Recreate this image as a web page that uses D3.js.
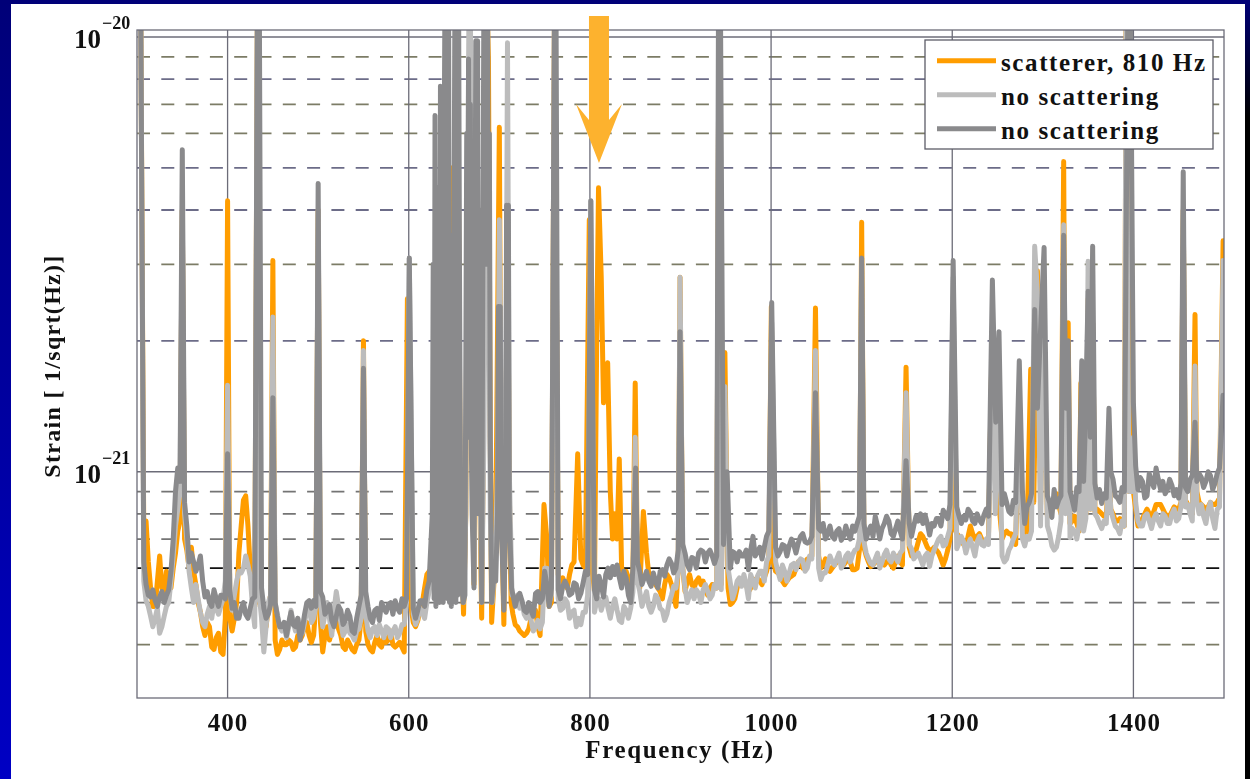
<html>
  <head>
    <meta charset="utf-8">
    <title>Strain spectrum</title>
    <script src="https://d3js.org/d3.v7.min.js" charset="utf-8"></script>
    <style>
      html, body { margin: 0; padding: 0; background: white; overflow: hidden; }
      text { font-family: "Liberation Serif", serif; font-weight: bold; fill: #111; }
    </style>
  </head>
  <body>
    <script>
      // amplitudes are in units of 1e-22 strain
      // floors sit on a 5 Hz grid starting at 300 Hz, one row per 100 Hz
      // the *Mid arrays are the points half way, 302.5, 307.5, ...
      var floorStart = 300, floorStep = 5;

      var darkFloor = [
        60,8,5.5,5.15,5.05,5.15,5,5.35,7,10.2,12,7.5,6.5,5.9,6.4,5.15,5,5.35,4.9,5.2,
        7,4.85,4.6,4.85,4.7,4.85,5.15,8,4.85,4.7,5.2,4.65,4.4,4.2,4.75,4.4,4.1,4.7,5.05,5.05,
        7,5.15,4.8,4.55,4.65,4.8,4.55,4.65,4.25,4.9,6.5,4.9,4.5,4.85,5,4.75,5,5.05,4.75,4.9,
        6,4.85,4.8,5.05,5.35,null,null,null,null,null,null,null,null,null,null,null,null,null,null,null,
        null,null,null,5,5.15,5.05,4.75,4.8,5.25,5,5.9,4.9,6,5.35,5.45,5.45,5.25,5.5,5.25,5.9,
        7,5.35,5.75,5.15,6,6.05,6.1,5.4,5.7,5,6.5,5.9,5.7,5.6,5.85,5.4,5.95,6.1,6.15,6,
        7.5,6.5,5.95,6.3,6.5,6.55,6.5,6.4,6.4,7,8,6,6.5,6.55,6.4,5.95,7.1,6.55,6.3,7.1,
        8,6.7,6.55,6.75,6.75,6.8,6.85,7.2,6.85,7.1,7.6,7.3,7,7.5,7,7.4,7.1,7.2,7.5,7.6,
        8,7,7.5,7.9,7,7.6,7.7,7.1,7.7,7,7.8,7.1,7.9,8,7.95,7.15,7.5,7.8,8.15,7.8,
        9,8.3,7.6,7.75,8.05,7.6,7.75,7.95,7.9,8.6,9,8.4,8.5,8,8.5,8.8,7.6,8.5,9.5,12,
        9.5,8.8,7.85,8.3,8.8,9.5,9,8.15,9,9.5,9.5,9.2,8.7,8.45,8.7,10,8.8,8.5,9,10,
        10,9.1,9.5,8.8,9.5,10.2,9.1,8.9,9.6,8.8,8.7,10,9,9.8,9.5,9.7,9.5,9.8,9.4,10.2,
        10.8
      ];

      var darkMid = [
        130,6.2,5.2,5.35,4.9,5.3,5.2,5.9,9,9.5,8.5,6.2,6.2,6.1,5.6,5.3,4.9,5.1,5.2,5.1,
        5.3,5,4.6,5,4.6,5.1,5.6,5.4,4.6,4.95,5,4.4,4.5,4.5,4.45,4.6,4.35,5,4.85,4.9,
        5.3,4.7,4.95,4.4,4.9,4.45,4.8,4.3,4.6,5.2,5.3,4.6,4.8,4.55,4.85,4.95,4.7,4.85,5.1,5.1,
        5.2,4.6,5.05,4.9,5.6,null,null,null,null,null,null,null,null,null,null,null,null,null,null,null,
        null,null,null,4.9,5.25,4.8,5,4.65,5.3,5.1,5.5,5.4,5.5,5.1,5.6,5.2,5.55,5.1,5.55,5.8,
        5.8,5.1,5.5,5.8,5.7,5.8,5.7,5.9,5.2,6,6.2,5.5,5.9,5.45,5.6,5.9,5.75,6.3,5.85,6.6,
        6.8,6.1,6.35,6,6.6,6.2,6.6,6.15,6.5,6.8,7,6.55,6.2,6.4,6.6,6.6,6.4,6.7,6.7,7.3,
        7.2,6.4,6.8,6.4,7,6.5,7.1,6.9,6.9,7.5,7.4,7.6,7.2,7.1,7.3,6.95,7.5,7,7.3,7.9,
        7.6,7.3,7.1,7.5,7.4,7.9,7.2,7.4,7.3,7.5,7.6,7.5,7.7,7.6,7.6,7.6,7.8,7.5,8,8.4,
        8.5,7.9,7.9,8.2,7.7,8,7.6,8.2,8,11,12,8.9,8.1,8.6,8.2,9,8.3,8.9,10,13,
        12,8.5,9.1,8.6,9.3,14,8.6,9.2,8.5,11,12,9.4,9.1,8.9,8.5,9.6,8.7,9.2,9.4,11,
        10.3,9.7,8.7,9.9,9.2,9.6,9.5,9.1,9.3,9.1,9.4,9.2,9.6,9.3,9.9,9.2,10,9.1,9.9,10.6
      ];

      var lightFloor = [
        60,7,5.05,4.65,4.6,4.25,4.65,5,6.4,8.2,9.5,7,5.4,5.5,4.75,4.4,4.9,5,4.7,5.1,
        7,4.8,5.6,5.85,6.4,5.75,4.4,5.2,3.85,5,5.5,4.7,4.3,4.15,4.8,4.3,4.35,4.5,4.9,4.6,
        6.5,4.4,5,4.2,5.3,4.5,4.3,4.25,4.1,4.35,5.5,4.3,4.35,4.2,4.3,4.4,4.15,4.4,4.25,4.45,
        6,4.7,4.6,4.75,5,null,null,null,null,null,null,null,null,null,null,null,null,null,null,null,
        null,null,null,4.9,5.2,5,4.6,4.55,4.4,4.35,6,5,6,5.1,4.85,5,4.75,4.4,4.45,4.75,
        6,4.75,5.1,5,4.85,4.9,4.8,4.5,4.8,4.85,6,5.3,5.1,4.9,4.9,5.1,4.8,4.7,5.2,5.4,
        7,5.4,5.2,5.1,5.25,5.35,5.3,5.2,5.4,5.35,7,5.55,5.3,5.7,5.8,5.1,5.6,5.75,5.9,6.2,
        7,6.2,5.65,5.9,5.85,6.15,6.2,6.25,6,6.3,7,5.65,5.85,6.4,6.1,6.5,6.15,6.5,6.45,6.65,
        7.5,6.5,6.15,6.3,6,6.45,6.3,6.5,6.2,6.6,7,6.65,6.4,6.3,6.4,6.05,6.6,7,6.75,7.1,
        8,6.65,7.1,6.5,7,6.4,7.1,6.75,6.8,7.5,8,6.4,6.3,6.75,7.2,7.5,6.75,7,8.5,7.5,
        8,7.5,6.75,6.7,7.7,8,7.05,7.3,7.5,7.3,8,8.5,7.85,7.4,7.6,8.2,7.5,7.2,7.5,9,
        9,7.7,7.5,8,7.4,8,7.5,7.9,7.6,8.2,7.8,9,8.4,7.7,8.5,8.4,7.6,8.5,7.4,8.3,
        9.1
      ];

      var lightMid = [
        130,5.6,4.9,4.4,4.85,4.4,4.9,5.6,7.5,9,8,5.9,5,5.1,4.5,4.7,4.6,4.85,4.9,5.6,
        5.3,5.2,5.9,6,6.1,4.9,4.7,4.6,4.4,5.2,5,4.4,4.5,4.4,4.5,4.6,4.25,4.8,4.5,4.9,
        5,4.7,4.6,4.8,4.9,4.2,4.45,4.2,4.3,4.6,4.7,4.15,4.4,4.45,4.15,4.35,4.3,4.15,4.45,5,
        5.3,4.45,4.85,4.6,5.3,null,null,null,null,null,null,null,null,null,null,null,null,null,null,null,
        null,null,null,5.1,4.85,4.7,4.85,4.3,4.55,4.5,6,5.2,5.6,4.8,5.1,4.6,4.8,4.6,4.75,5.2,
        5.5,5.05,4.8,5.15,4.6,5.1,4.55,4.9,4.6,5.3,5.6,4.9,5.3,4.75,5.2,4.85,4.55,5,5.45,5.9,
        6,5,5.35,5.35,5,5.5,5.1,5.5,5.2,5.8,6,5.1,5.6,5.45,5.5,5.8,5.4,5.9,5.6,6.4,
        6.4,5.9,6.1,5.6,6.1,5.95,6.3,5.9,6.4,6.6,6,5.85,6.1,6.2,6.3,6,6.4,6.2,6.6,7,
        6.9,6.3,6.1,6.5,6.2,6.6,6.2,6.35,6.5,6.8,6.8,6.3,6.5,6.1,6.5,6.4,6.8,7.1,6.8,7.4,
        7.3,6.85,6.9,6.8,6.7,6.9,6.8,7,7.3,8,7.4,6.2,6.6,7,7.3,7,7.1,7.3,8,7.5,
        7.6,7.2,6.6,7.1,7.8,7.9,7.4,7,7.6,7.8,8.2,8,7.6,7.7,7.9,7.8,7.4,7.7,8.3,9,
        8.5,7.5,7.9,7.7,7.8,7.7,8,7.6,8,7.7,8.3,8.3,8,8.2,8,7.9,8.2,7.8,8.2,8.6
      ];

      var orangeFloor = [
        60,7.5,7.7,5.4,4.9,6.4,5.3,5.7,6,7.3,7.6,6.6,6.7,5.5,4.75,4.2,4.4,3.9,4.25,3.8,
        6,4.3,5,7.5,8.8,6,4.9,5,4.6,4.9,5.5,3.8,4.1,4,4.05,3.95,4.1,4.4,4.2,4.2,
        6,3.85,4.4,4.3,4.6,4.2,3.9,4,3.85,4.1,5,4,3.85,4.2,3.95,4.05,4.3,3.95,4.05,3.85,
        5.5,4.5,4.55,5,5.8,null,null,null,null,null,null,null,null,null,null,null,null,null,null,null,
        null,null,null,4.7,4.4,4.25,4.25,4.6,4.8,4.2,5.5,4.9,5.5,5.8,5.7,5.4,6.1,6.2,6.3,6,
        7,5.3,8,5.5,8,7,7,6,5.9,5.4,7,5.4,7.5,5.8,5.6,5.4,5.1,5.8,5.5,4.9,
        7,5.3,5.8,5.4,5.7,5.6,5.2,5.5,5.4,5.5,6,4.95,5.1,5.6,5.7,5.3,5.5,5.7,5.5,5.9,
        7,5.9,5.8,5.5,5.7,5.8,6.2,6,6.3,6.4,7,6,6.3,5.9,6.1,6.3,6.1,6.4,5.95,6,
        7.5,6.4,6.05,6.2,6.3,6.1,6.3,6,6.4,6.1,7,6.4,6.6,7.2,6.9,6.6,6.7,6.5,6.1,6.6,
        8,7.2,7,6.7,7.5,7,7.2,6.8,7.1,8,8.5,7,7.3,7.2,6.8,8,7.3,7.2,8.5,8,
        8.5,7.9,8.2,8.9,8,8.5,7.6,7.9,7.3,7.5,8.5,8,8.2,8,7.9,8.2,7.7,7.8,7.5,9,
        9,7.5,7.8,8.2,7.9,8.4,8.4,8,7.9,8.3,8.2,9,8.4,8,9,8.4,8.2,8.5,8.4,8.7,
        9.5
      ];

      var orangeMid = [
        130,7,6.2,4.9,5.6,5.4,5.9,5.4,6.5,7.7,7,6,5.9,5,4.4,4.5,3.95,4.15,3.85,4.6,
        4.6,4.6,6.5,8.6,7.5,5.2,4.8,4.9,4.4,5.2,4.1,3.9,4,4.1,3.9,4.2,4.2,4.5,4.05,5,
        4.5,4.2,4.1,4.7,4.35,3.95,4.1,3.9,4,4.6,4.3,3.9,4.05,4,4.2,4.1,4,4,3.95,4.6,
        4.9,4.4,4.8,5.4,5.9,null,null,null,null,null,null,null,null,null,null,null,null,null,null,null,
        null,null,null,4.45,4.3,4.2,4.35,4.8,4.4,5,7,5,6,5.5,5.5,5.8,6.2,7,6.1,7,
        6,20,28,16,9,8,9,5.8,5.7,5.9,6,6.5,6.5,5.7,5.5,5.3,5.5,5.7,5.2,6,
        6,5.6,5.5,5.6,5.5,5.4,5.4,5.5,5.4,6,5.4,5,5.4,5.6,5.5,5.4,5.65,5.6,5.7,6.2,
        6.2,5.85,5.6,5.6,5.75,6,6.1,6.2,6.3,6.8,6.4,6.1,6.1,6,6.2,6.2,6.2,6.2,5.95,6.6,
        6.7,6.2,6.1,6.2,6.2,6.2,6.1,6.2,6.2,6.6,6.7,6.5,6.9,7.1,6.7,6.6,6.6,6.3,6.3,7,
        7.4,7.1,6.8,7.1,7.2,7.1,7,6.9,7.4,8,8,7.2,7.2,7,7.2,7.6,7.2,7.8,8.8,8.4,
        8.3,8,8.6,8.4,8.5,8,7.7,7.6,7.4,8,8.2,8.1,8.1,7.9,8,8,7.7,7.6,8,9,
        8.2,7.6,8,8,8.1,8.4,8.2,7.9,8.1,8.2,8.5,8.6,8.2,8.4,8.5,8.3,8.3,8.4,8.5,9
      ];

      // spectral lines as [Hz, amplitude], 130 runs off the top of the plot
      var darkPeaks = [
        [300,130],[304,130],[350,55],[400,11],[433,130],[435,130],[450,14.8],[500,46],[550,17.3],[600.6,31],
        [626,8],[627,30],[628,5.1],[629,66],[630,4.9],[631,40],[632,5.2],[633,45],[634,5],[635,77],[636,5.2],[637,45],[638,5],[639,50],
        [640,130],[642,130],[643,5.1],[644,130],[645,5],[646,35],[647,4.9],[648,35],[649,5.1],[650,35],[651,130],[652,5],[653,130],[654,5.2],[655,130],[656,30],
        [657.5,6],[660,5],[662,5.2],[664,60],[665,12],[666,89],[667,12],[668,70],[669,12],[670,8],[672,5.4],
        [674,98],[675,10],[676,98],[677,8],[678,8],[679,40],[680.5,5],[682,40],[683,130],[684,30],[685,130],[686,30],[687,130],[688,30],[689,60],[690,12],
        [691.5,5],[694,5.8],[696,5.6],[698,8],[699,24],[700,10],[701,24],[702,8],
        [705,4.8],[707,8],[708,41],[709,10],[710,41],[711,8],[713.5,5.4],
        [761,130],[762.5,130],[801,42],[850.5,10.2],[899.5,21],[942,130],[944,130],[951.4,10],[1000.7,24.5],
        [1049,15.2],[1100,31],[1149,10.6],[1201,30.6],[1244.3,27.6],[1248,13],[1251.6,21],[1274,18],[1291,23.6],[1294,14],[1297,20],
        [1301.4,32.8],[1323,35],[1325.5,14],[1328,20],[1343,18],[1347,13],[1350,26],[1355,33],[1373,14],[1394,130],[1396.5,130],
        [1400,14.4],[1455,49],[1468,13],[1499,15]
      ];

      var lightPeaks = [
        [300,130],[304,130],[350,40],[400,15.8],[433,130],[450,22.7],[500,40],[550,19],[600.6,31],
        [626,6],[629,30],[632,12],[635,40],[638,14],[642,60],[646,15],[650,20],[653,60],[656,15],[658,6],[660.5,5],[663,8],
        [666.6,130],[668,130],[670,12],[672,5.6],[675,60],[678,12],[680.5,5],[683,12],[685,60],[688,40],[690,8],[692,5],
        [695,6],[698,10],[700,38],[703,9],[705,5],[707,10],[709,97],[711,10],[714,5.2],
        [761,130],[801,42],[850,12],[899.5,28],[942.5,130],[949,15.7],[1000.7,22],[1049,19],[1100,30],[1149,15.2],
        [1201,28],[1244,20],[1251,17],[1274,14],[1291,33],[1294,26],[1301,25],[1323,37],[1328,18],[1343,14],[1350,30.5],
        [1355,22],[1373,10],[1392,130],[1400,12],[1455,40],[1468,17.5],[1499,30.6]
      ];

      var orangePeaks = [
        [300,130],[304,130],[350,40],[400,42],[433,130],[450,30.6],[500,40],[550,20],[598.5,25],
        [626,6],[629,25],[635,30],[639,12],[642,130],[645,15],[648,50],[651,15],[653,130],[655,40],[657,8],[660.5,4.7],[663,8],
        [666,60],[669,20],[672,5.5],[675,50],[678,10],[680.5,4.6],[682,10],[684,130],[686,130],[688,88],[690,12],[691.5,4.5],
        [695,6],[697,12],[700,62],[702,9],[705,4.45],[707,9],[709,40],[711,9],[713,5],
        [749.3,8.4],[761,130],[786.5,11],[799.3,38],[809.5,45],[815,14.4],[819.6,17.8],[832.4,10.7],[850,16],[859,8.1],
        [899.5,28],[942.5,130],[949,18.8],[1000.3,24],[1049,23.8],[1100,37.5],[1149,17.4],[1200,17],[1244,20],[1248,19],
        [1274,14],[1286.6,17.2],[1294,29],[1301,22],[1323,51.7],[1328,22],[1342,16],[1350,25],[1355,22],[1373,10],
        [1392,130],[1398,30],[1455,40],[1468,23],[1499,34]
      ];

      var xTicks = [400, 600, 800, 1000, 1200, 1400];
      var majorGrid = [1e-20, 1e-21];
      var minorGrid = [9e-21, 8e-21, 7e-21, 6e-21, 5e-21, 4e-21, 3e-21, 2e-21, 9e-22, 8e-22, 7e-22, 6e-22, 5e-22, 4e-22];
      var minorColors = ["#7c7c66", "#6c6c88", "#7c7c66", "#7c7c66", "#6c6c88", "#6c6c88", "#7c7c66", "#6c6c88", "#747474", "#747474", "#747474", "#111111", "#747474", "#7c7c66"];
      var legendNames = ["scatterer, 810 Hz", "no scattering", "no scattering"];
      var seriesColors = ["#ff9d00", "#bcbcbc", "#8a8a8c"];
      var arrowHz = 810;

      var width = 1250,
          height = 779,
          plotLeft = 137, plotRight = 1224, plotTop = 30, plotBottom = 698;

      var x = d3.scaleLinear().domain([300, 1500]).range([plotLeft, plotRight]);
      // 3e-22 sits on the bottom edge, 1e-20 is 7 px under the top edge
      var y = d3.scaleLog().domain([3e-22, 1e-20]).range([699, 37]);

      var svg = d3.select("body").append("svg")
        .attr("width", width)
        .attr("height", height)
        .style("display", "block");

      var defs = svg.append("defs");
      var sideGrad = defs.append("linearGradient").attr("id", "side").attr("x1", 0).attr("y1", 0).attr("x2", 0).attr("y2", 1);
      sideGrad.append("stop").attr("offset", 0).attr("stop-color", "#000078");
      sideGrad.append("stop").attr("offset", 1).attr("stop-color", "#0000c4");
      var rightGrad = defs.append("linearGradient").attr("id", "rightside").attr("x1", 0).attr("y1", 0).attr("x2", 0).attr("y2", 1);
      rightGrad.append("stop").attr("offset", 0).attr("stop-color", "#000078");
      rightGrad.append("stop").attr("offset", 0.15).attr("stop-color", "#000000");
      rightGrad.append("stop").attr("offset", 1).attr("stop-color", "#000000");
      defs.append("clipPath").attr("id", "plotclip").append("rect")
        .attr("x", plotLeft).attr("y", plotTop).attr("width", plotRight - plotLeft).attr("height", plotBottom - plotTop);

      // slide frame
      svg.append("rect").attr("width", width).attr("height", height).attr("fill", "white");
      svg.append("rect").attr("width", 11).attr("height", height).attr("fill", "url(#side)");
      svg.append("rect").attr("x", 1245).attr("width", 5).attr("height", height).attr("fill", "url(#rightside)");
      svg.append("rect").attr("width", width).attr("height", 4).attr("fill", "#000078");

      var chart = svg.append("g").style("filter", "blur(0.5px)");

      // grid
      chart.selectAll(".minor").data(minorGrid).enter().append("line")
        .attr("class", "minor")
        .attr("x1", plotLeft).attr("x2", plotRight)
        .attr("y1", function(d) { return y(d); })
        .attr("y2", function(d) { return y(d); })
        .attr("stroke", function(d, i) { return minorColors[i]; })
        .attr("stroke-width", 1.8)
        .attr("stroke-dasharray", "13 11.3");

      chart.selectAll(".major").data(majorGrid).enter().append("line")
        .attr("class", "major")
        .attr("x1", plotLeft).attr("x2", plotRight)
        .attr("y1", function(d) { return y(d); })
        .attr("y2", function(d) { return y(d); })
        .attr("stroke", "#6c6c78")
        .attr("stroke-width", 1.6);

      chart.selectAll(".vgrid").data(xTicks).enter().append("line")
        .attr("class", "vgrid")
        .attr("x1", function(d) { return x(d); })
        .attr("x2", function(d) { return x(d); })
        .attr("y1", plotTop).attr("y2", plotBottom)
        .attr("stroke", "#6c6c78")
        .attr("stroke-width", 1.3);

      // join the floor points with the spectral lines
      function mergeSeries(floor, mid, peaks) {
        var pts = [];
        function addGrid(values, start) {
          values.forEach(function(v, i) {
            var hz = start + i * floorStep;
            if (v === null) return;
            var nearPeak = peaks.some(function(p) { return Math.abs(p[0] - hz) < 1.9; });
            if (!nearPeak) pts.push([hz, v]);
          });
        }
        addGrid(floor, floorStart);
        addGrid(mid, floorStart + floorStep / 2);
        return pts.concat(peaks).sort(function(a, b) { return a[0] - b[0]; });
      }

      var line = d3.line()
        .x(function(d) { return x(d[0]); })
        .y(function(d) { return y(d[1] * 1e-22); });

      var series = [
        mergeSeries(orangeFloor, orangeMid, orangePeaks),
        mergeSeries(lightFloor, lightMid, lightPeaks),
        mergeSeries(darkFloor, darkMid, darkPeaks)
      ];

      chart.append("g").attr("clip-path", "url(#plotclip)")
        .selectAll("path").data(series).enter().append("path")
        .attr("d", line)
        .attr("fill", "none")
        .attr("stroke", function(d, i) { return seriesColors[i]; })
        .attr("stroke-width", 5)
        .attr("stroke-linejoin", "round")
        .attr("stroke-linecap", "round");

      // plot box
      chart.append("rect")
        .attr("x", plotLeft).attr("y", plotTop)
        .attr("width", plotRight - plotLeft).attr("height", plotBottom - plotTop)
        .attr("fill", "none")
        .attr("stroke", "#6c6c78")
        .attr("stroke-width", 1.3);

      // x axis labels
      var xAxis = d3.axisBottom(x).tickValues(xTicks).tickSize(0).tickFormat(d3.format("d"));
      var xAxisG = chart.append("g").attr("transform", "translate(0," + plotBottom + ")").call(xAxis);
      xAxisG.select(".domain").remove();
      xAxisG.selectAll("text")
        .attr("y", 33)
        .attr("dy", 0)
        .style("font-size", "25px")
        .style("letter-spacing", "1px")
        .style("font-family", "'Liberation Serif', serif");

      chart.append("text")
        .attr("x", 680).attr("y", 758)
        .attr("text-anchor", "middle")
        .style("font-size", "25px")
        .style("letter-spacing", "1.6px")
        .text("Frequency (Hz)");

      chart.append("text")
        .attr("transform", "translate(60,366) rotate(-90)")
        .attr("text-anchor", "middle")
        .style("font-size", "24px")
        .style("letter-spacing", "1.3px")
        .text("Strain [ 1/sqrt(Hz)]");

      // y axis labels, only the decades are marked
      var decades = chart.selectAll(".decade").data(majorGrid).enter().append("g")
        .attr("class", "decade")
        .attr("transform", function(d) { return "translate(0," + y(d) + ")"; });
      decades.append("text")
        .attr("x", 74).attr("y", 11)
        .style("font-size", "27px")
        .text("10");
      decades.append("text")
        .attr("x", 102).attr("y", -8)
        .style("font-size", "18px")
        .text(function(d) { return "\u2212" + Math.round(-Math.log10(d)); });

      // legend
      var legend = chart.append("g");
      legend.append("rect")
        .attr("x", 925).attr("y", 40)
        .attr("width", 288).attr("height", 109)
        .attr("fill", "white")
        .attr("stroke", "#5c5c68")
        .attr("stroke-width", 1.3);
      var rows = legend.selectAll(".row").data(legendNames).enter().append("g")
        .attr("class", "row")
        .attr("transform", function(d, i) { return "translate(0," + (60.7 + i * 34) + ")"; });
      rows.append("line")
        .attr("x1", 937).attr("x2", 996)
        .attr("stroke", function(d, i) { return seriesColors[i]; })
        .attr("stroke-width", 5);
      rows.append("text")
        .attr("x", 1001).attr("y", 10)
        .style("font-size", "25px")
        .style("letter-spacing", "1.6px")
        .text(function(d) { return d; });

      // arrow pointing at the injected line
      var ax = x(arrowHz);
      chart.append("path")
        .attr("d", d3.line()([[ax - 10, 16], [ax + 10, 16], [ax + 10, 120], [ax + 23, 104], [ax, 163], [ax - 23, 104], [ax - 10, 120]]) + "Z")
        .attr("fill", "#fdb22e");
    </script>
  </body>
</html>
